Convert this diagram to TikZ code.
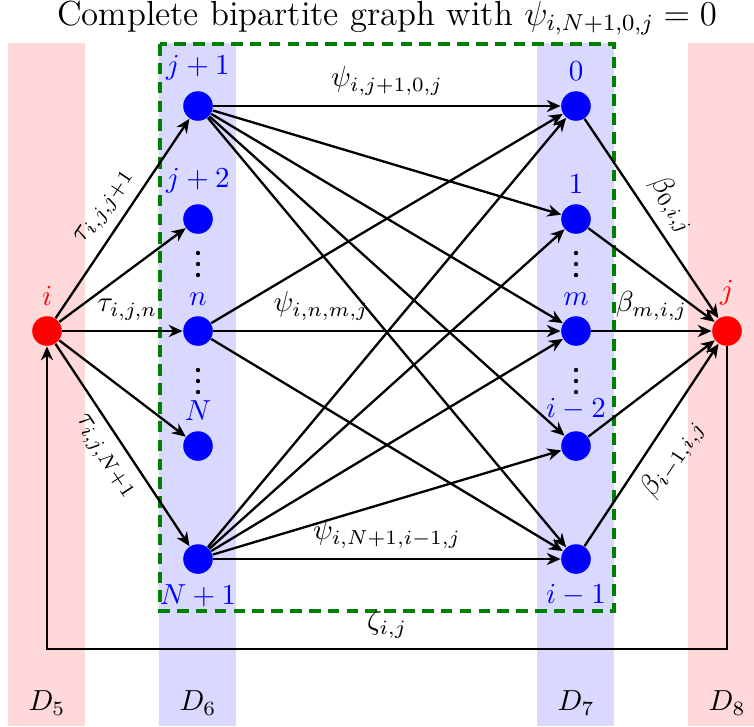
\documentclass[tikz,border=0pt]{standalone}
\usetikzlibrary{arrows.meta}
\begin{document}
\begin{tikzpicture}[x=0.345pt,y=0.345pt,
  vtx/.style={circle,fill=blue,minimum size=10.2pt,inner sep=0pt},
  rvtx/.style={circle,fill=red,minimum size=10.2pt,inner sep=0pt},
  arr/.style={thick,-{Stealth[length=4.8pt,width=4.2pt]}},
  lbl/.style={text=blue},
  rlbl/.style={text=red},
  band5/.style={fill=red!15,draw=none},
  band6/.style={fill=blue!15,draw=none},
  grp/.style={draw=green!50!black,line width=1.1pt,dash pattern=on 4pt off 2.5pt},
  dotmark/.style={fill=black},
  dlabel/.style={}
]
\useasboundingbox (0,0) rectangle (754,-726);
% bands
\fill[band5] (8,-43) rectangle (85,-726);
\fill[band6] (159,-43) rectangle (236,-726);
\fill[band6] (537,-43) rectangle (614,-726);
\fill[band5] (688,-43) rectangle (765,-726);
% green group
\draw[grp] (160,-44) rectangle (614,-611);
% title
\node (title) at (387,-18) {\large Complete bipartite graph with $\psi_{i,N+1,0,j}=0$};
% nodes
\node[rvtx,label={[rlbl]above:$i$}] (i) at (47,-331) {};
\node[rvtx,label={[rlbl]above:$j$}] (j) at (727,-331) {};
\node[vtx,label={[lbl]above:$j+1$}] (L1) at (198,-106) {};
\node[vtx,label={[lbl]above:$j+2$}] (L2) at (198,-219) {};
\node[vtx,label={[lbl]above:$n$}] (L3) at (198,-331) {};
\node[vtx,label={[lbl]above:$N$}] (L4) at (198,-446) {};
\node[vtx,label={[lbl]below:$N+1$}] (L5) at (198,-559) {};
\node[vtx,label={[lbl]above:$0$}] (R1) at (576,-106) {};
\node[vtx,label={[lbl]above:$1$}] (R2) at (576,-219) {};
\node[vtx,label={[lbl]above:$m$}] (R3) at (576,-331) {};
\node[vtx,label={[lbl]above:$i-2$}] (R4) at (576,-446) {};
\node[vtx,label={[lbl]below:$i-1$}] (R5) at (576,-559) {};
% vertical dots
\foreach \x in {198,576}{
  \foreach \y in {253,264,275,370,381,392}{
    \fill[dotmark] (\x,-\y) circle (0.75pt);
  }
}
% i to left column
\draw[arr] (i) -- node[sloped,above]{$\tau_{i,j,j+1}$} (L1);
\draw[arr] (i) -- (L2);
\draw[arr] (i) -- node[above,pos=0.54]{$\tau_{i,j,n}$} (L3);
\draw[arr] (i) -- (L4);
\draw[arr] (i) -- node[sloped,below]{$\tau_{i,j,N+1}$} (L5);
% left to right
\draw[arr] (L1) -- node[above]{$\psi_{i,j+1,0,j}$} (R1);
\draw[arr] (L1) -- (R2);
\draw[arr] (L1) -- (R3);
\draw[arr] (L1) -- (R4);
\draw[arr] (L1) -- (R5);
\draw[arr] (L3) -- (R1);
\draw[arr] (L3) -- node[above,pos=0.31]{$\psi_{i,n,m,j}$} (R3);
\draw[arr] (L3) -- (R5);
\draw[arr] (L5) -- (R1);
\draw[arr] (L5) -- (R2);
\draw[arr] (L5) -- (R3);
\draw[arr] (L5) -- (R4);
\draw[arr] (L5) -- node[above]{$\psi_{i,N+1,i-1,j}$} (R5);
% right column to j
\draw[arr] (R1) -- node[sloped,above]{$\beta_{0,i,j}$} (j);
\draw[arr] (R2) -- (j);
\draw[arr] (R3) -- node[above]{$\beta_{m,i,j}$} (j);
\draw[arr] (R4) -- (j);
\draw[arr] (R5) -- node[sloped,below]{$\beta_{i-1,i,j}$} (j);
% feedback
\coordinate (fbr) at (727,-649);
\coordinate (fbl) at (47,-649);
\draw[arr] (j.south) -- (fbr) -- node[above]{$\zeta_{i,j}$} (fbl) -- (i.south);
% domain labels
\node[dlabel] (D5) at (47,-703) {$D_5$};
\node[dlabel] (D6) at (198,-703) {$D_6$};
\node[dlabel] (D7) at (576,-703) {$D_7$};
\node[dlabel] (D8) at (727,-703) {$D_8$};
\end{tikzpicture}
\end{document}
